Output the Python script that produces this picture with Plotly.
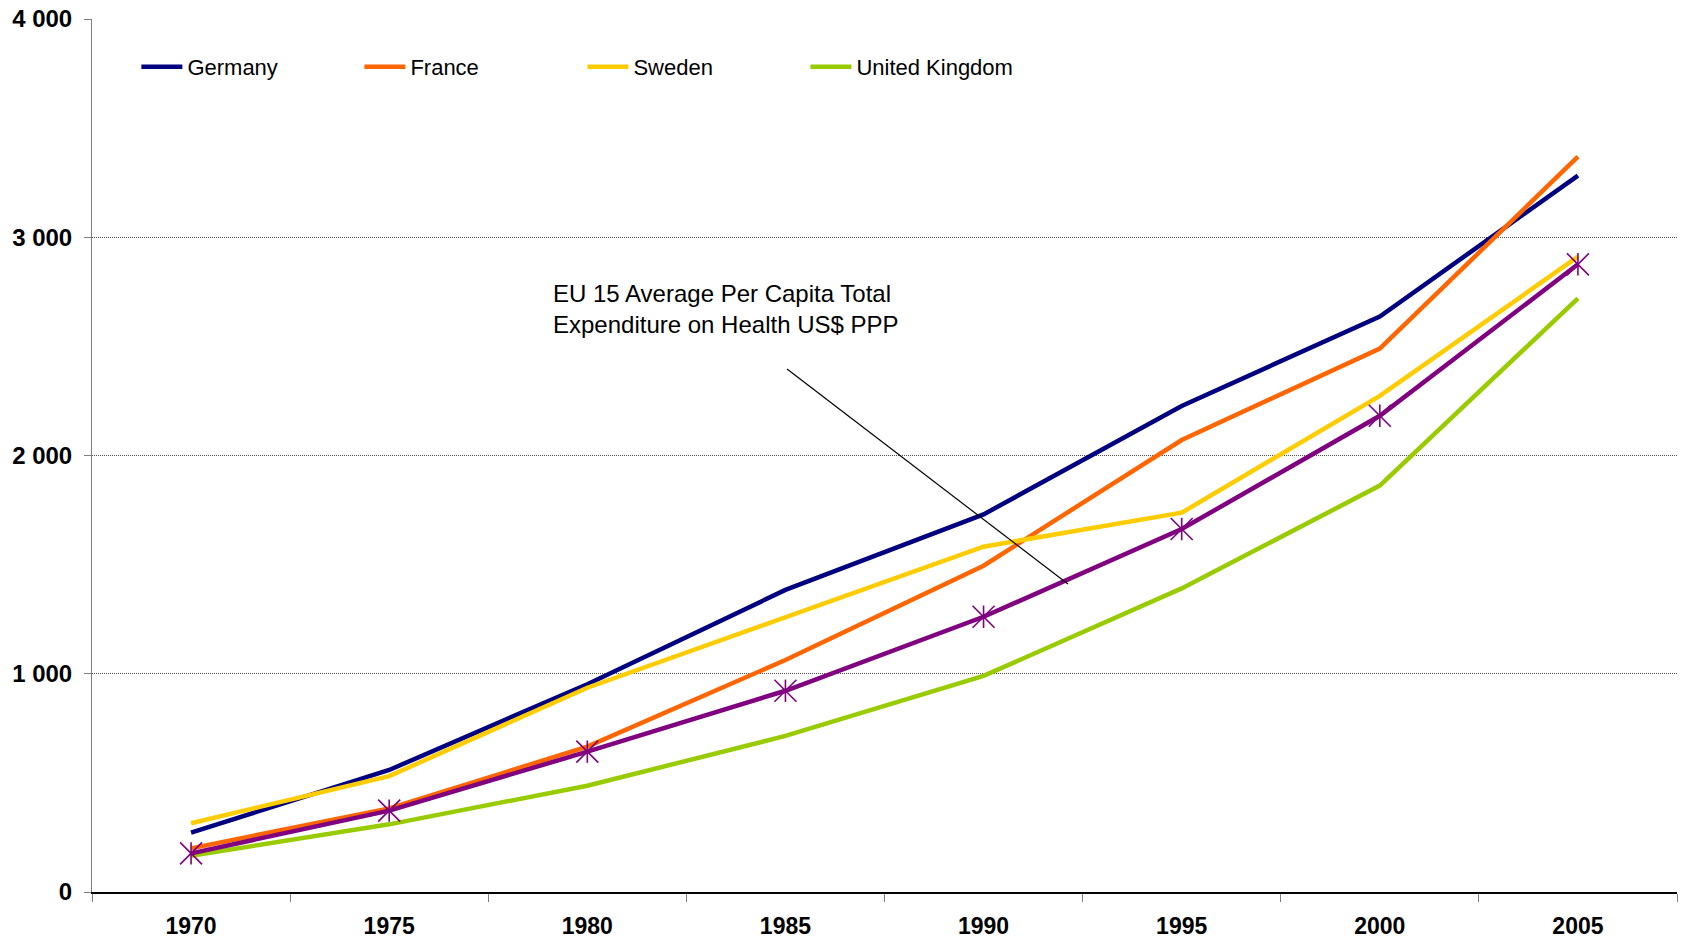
import plotly.graph_objects as go

years = ["1970", "1975", "1980", "1985", "1990", "1995", "2000", "2005"]
germany = [272, 559, 952, 1384, 1730, 2227, 2637, 3282]
france = [200, 383, 666, 1063, 1495, 2071, 2490, 3369]
sweden = [315, 531, 936, 1261, 1582, 1738, 2273, 2911]
uk = [166, 310, 487, 715, 990, 1391, 1862, 2720]
eu15 = [177, 373, 643, 922, 1261, 1663, 2182, 2876]

y_tickvals = [0, 1000, 2000, 3000, 4000]
y_ticktext = ["0", "1 000", "2 000", "3 000", "4 000"]

FONT = "Liberation Sans, Arial, sans-serif"

fig = go.Figure()
series = [
    ("Germany", germany, "#000080"),
    ("France", france, "#FF6600"),
    ("Sweden", sweden, "#FFCC00"),
    ("United Kingdom", uk, "#99CC00"),
]
for name, vals, col in series:
    fig.add_trace(go.Scatter(x=years, y=vals, name=name, mode="lines",
                             line=dict(color=col, width=4.5)))

fig.add_trace(go.Scatter(x=years, y=eu15, name="EU 15", mode="lines+markers",
                         showlegend=False,
                         line=dict(color="#800080", width=4.5),
                         marker=dict(symbol="x-thin", size=22, color="#800080",
                                     line=dict(color="#800080", width=1.6))))
fig.add_trace(go.Scatter(x=years, y=eu15, mode="markers", showlegend=False,
                         marker=dict(symbol="line-ns", size=16, color="#800080",
                                     line=dict(color="#800080", width=1.6))))

fig.add_shape(type="line", xref="x", yref="y", x0=3.008, y0=2396, x1=4.426, y1=1411,
              line=dict(color="black", width=1.2))
fig.add_annotation(xref="x", yref="y", x=1.815, y=2672, xanchor="left", yanchor="middle",
                   align="left", showarrow=False,
                   text="EU 15 Average Per Capita Total<br>Expenditure on Health US$ PPP",
                   font=dict(family=FONT, size=24, color="black"))

fig.update_layout(
    width=1682, height=942,
    margin=dict(l=92, r=5, t=19, b=50),
    paper_bgcolor="white", plot_bgcolor="white",
    font=dict(family=FONT, color="black"),
    legend=dict(orientation="h", x=0.028, y=0.945, xanchor="left", yanchor="middle",
                font=dict(family=FONT, size=22, color="black"),
                entrywidth=167, entrywidthmode="pixels", itemwidth=41,
                bgcolor="rgba(0,0,0,0)", traceorder="normal"),
    showlegend=True,
)
fig.update_xaxes(type="category", range=[-0.5, 7.5], showgrid=False, automargin=False,
                 showline=True, linecolor="black", linewidth=1.5,
                 ticks="outside", tickson="boundaries", ticklen=8, tickcolor="#808080",
                 tickfont=dict(family=FONT, size=23, color="black", weight="bold"),
                 ticklabelstandoff=13)
fig.update_yaxes(range=[0, 4000], tickvals=y_tickvals, ticktext=y_ticktext, automargin=False,
                 showgrid=True, gridcolor="#505050", griddash="1px,1px", gridwidth=1,
                 zeroline=False, showline=True, linecolor="#808080", linewidth=1,
                 ticks="outside", ticklen=7, tickcolor="#808080",
                 tickfont=dict(family=FONT, size=24, color="black", weight="bold"),
                 ticklabelstandoff=7)

fig.write_html("out.html", config={"displayModeBar": False},
               post_script="document.body.style.margin='0';")
